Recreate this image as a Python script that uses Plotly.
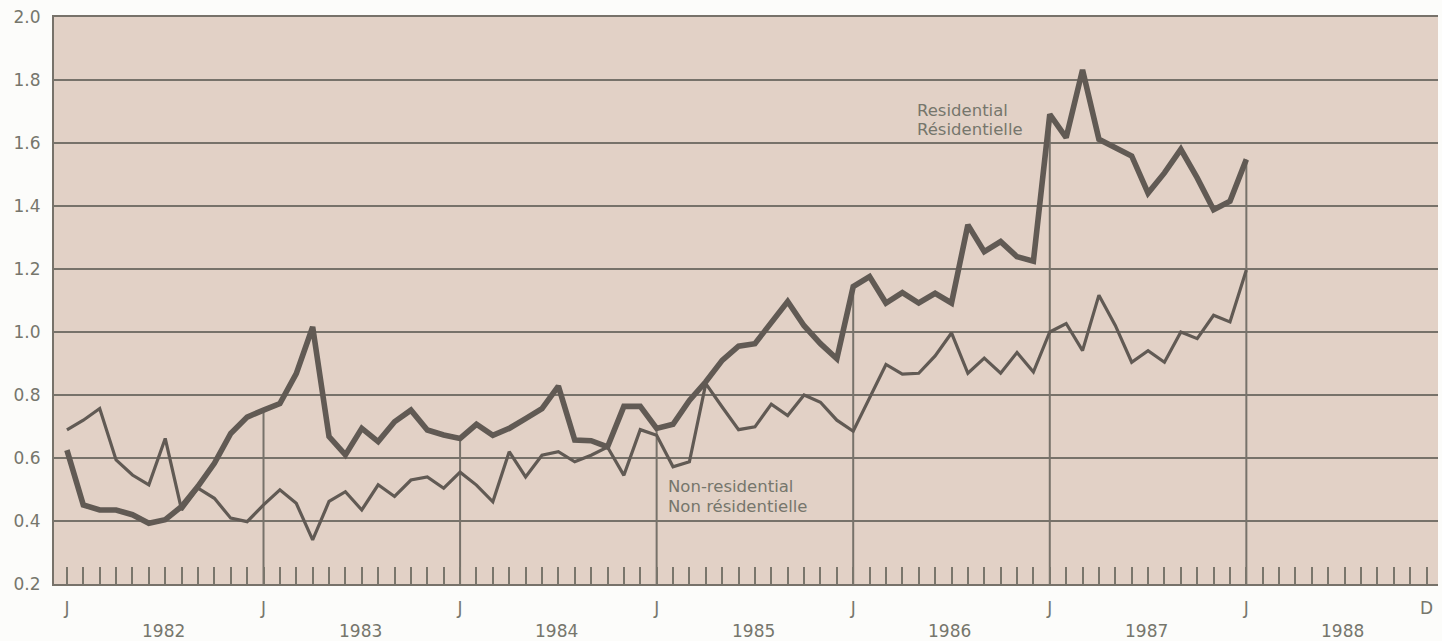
import plotly.graph_objects as go

# Monthly index: 0 = January 1982 ... 83 = December 1988
years = ["1982", "1983", "1984", "1985", "1986", "1987", "1988"]

residential = [
    0.625, 0.451, 0.435, 0.435, 0.420, 0.393, 0.404, 0.446, 0.510, 0.583, 0.678, 0.730,   # 1982
    0.752, 0.773, 0.868, 1.016, 0.668, 0.610, 0.694, 0.652, 0.715, 0.752, 0.689, 0.673,   # 1983
    0.662, 0.707, 0.672, 0.694, 0.725, 0.757, 0.828, 0.657, 0.655, 0.635, 0.764, 0.764,   # 1984
    0.694, 0.707, 0.783, 0.842, 0.910, 0.955, 0.963, 1.030, 1.097, 1.020, 0.963, 0.915,   # 1985
    1.144, 1.176, 1.092, 1.125, 1.092, 1.123, 1.092, 1.340, 1.255, 1.287, 1.239, 1.225,   # 1986
    1.691, 1.617, 1.832, 1.612, 1.585, 1.559, 1.441, 1.505, 1.580, 1.489, 1.388, 1.415,   # 1987
    1.548,                                                                                 # Jan 1988
]

non_residential = [
    0.689, 0.720, 0.757, 0.594, 0.546, 0.515, 0.662, 0.435, 0.504, 0.472, 0.409, 0.398,   # 1982
    0.451, 0.499, 0.456, 0.340, 0.462, 0.493, 0.435, 0.515, 0.478, 0.530, 0.540, 0.504,   # 1983
    0.555, 0.514, 0.461, 0.620, 0.540, 0.609, 0.620, 0.588, 0.609, 0.635, 0.545, 0.690,   # 1984
    0.672, 0.572, 0.588, 0.836, 0.762, 0.690, 0.699, 0.771, 0.735, 0.800, 0.777, 0.720,   # 1985
    0.685, 0.790, 0.897, 0.866, 0.869, 0.924, 0.997, 0.869, 0.917, 0.869, 0.935, 0.873,   # 1986
    1.000, 1.027, 0.941, 1.117, 1.021, 0.904, 0.941, 0.904, 1.000, 0.979, 1.053, 1.032,   # 1987
    1.197,                                                                                 # Jan 1988
]

y_ticks = [0.2, 0.4, 0.6, 0.8, 1.0, 1.2, 1.4, 1.6, 1.8, 2.0]

months = list(range(len(residential)))
all_months = list(range(84))
month_text = ["J" if m % 12 == 0 else ("D" if m == 83 else "") for m in all_months]

LINE = "#615a54"
GRID = "#77726a"
TEXT = "#76766c"
FONT = "DejaVu Sans"

# January drop lines (from axis up to the residential curve)
drop_x, drop_y = [], []
for m in range(12, len(residential), 12):
    drop_x += [m, m, None]
    drop_y += [0.2, residential[m], None]

fig = go.Figure()
fig.add_trace(go.Scatter(x=drop_x, y=drop_y, mode="lines",
                         line=dict(color=GRID, width=2), hoverinfo="skip", showlegend=False))
fig.add_trace(go.Scatter(x=months, y=non_residential, mode="lines", name="Non-residential",
                         line=dict(color=LINE, width=3.2), showlegend=False))
fig.add_trace(go.Scatter(x=months, y=residential, mode="lines", name="Residential",
                         line=dict(color=LINE, width=5.6), showlegend=False))

annotations = []
for k, yr in enumerate(years):
    annotations.append(dict(x=5.9 + 12 * k, y=0, xref="x", yref="paper", text=yr,
                            showarrow=False, yanchor="middle", yshift=-47,
                            font=dict(family=FONT, size=17, color=TEXT)))

label_font = dict(family=FONT, size=16.5, color=TEXT)
annotations += [
    dict(x=51.75, y=1.703, xref="x", yref="y", text="Residential", showarrow=False,
         xanchor="left", yanchor="middle", font=label_font),
    dict(x=51.75, y=1.643, xref="x", yref="y", text="Résidentielle", showarrow=False,
         xanchor="left", yanchor="middle", font=label_font),
    dict(x=36.6, y=0.51, xref="x", yref="y", text="Non-residential", showarrow=False,
         xanchor="left", yanchor="middle", font=label_font),
    dict(x=36.6, y=0.447, xref="x", yref="y", text="Non résidentielle", showarrow=False,
         xanchor="left", yanchor="middle", font=label_font),
]

fig.update_layout(
    width=1442, height=641, autosize=False,
    margin=dict(l=54, r=4, t=17, b=57),
    paper_bgcolor="#fcfcfa",
    plot_bgcolor="#e2d1c6",
    font=dict(family=FONT, size=17, color=TEXT),
    annotations=annotations,
    xaxis=dict(
        range=[-0.79, 83.7], tickmode="array", tickvals=all_months, ticktext=month_text,
        ticks="inside", ticklen=17, tickwidth=2, tickcolor="#7a766c",
        showgrid=False, zeroline=False, showline=True, linecolor=GRID, linewidth=2,
        mirror=True, ticklabelstandoff=8,
        tickfont=dict(family=FONT, size=17, color=TEXT),
    ),
    yaxis=dict(
        range=[0.2, 2.0], tickmode="array", tickvals=y_ticks,
        ticktext=[f"{v:.1f}" for v in y_ticks], ticks="",
        showgrid=True, gridcolor=GRID, gridwidth=2, zeroline=False,
        showline=True, linecolor=GRID, linewidth=2, ticklabelstandoff=8,
        tickfont=dict(family=FONT, size=17, color=TEXT),
    ),
)

fig.write_html("out.html", config={"displayModeBar": False},
               post_script="document.body.style.margin='0';")
